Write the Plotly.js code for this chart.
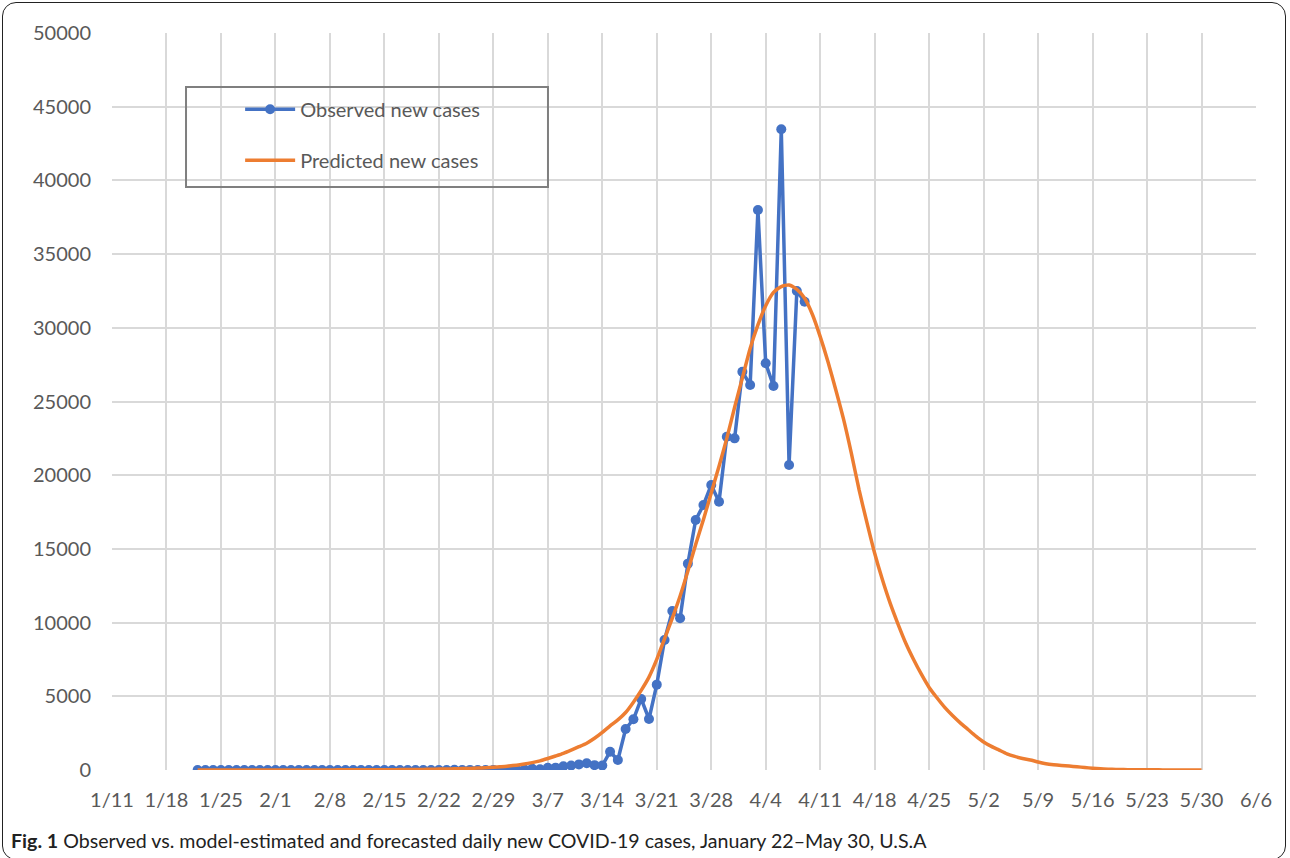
<!DOCTYPE html>
<html>
<head>
<meta charset="utf-8">
<script src="https://cdn.plot.ly/plotly-3.0.1.min.js"></script>
<style>
html,body{margin:0;padding:0;background:#fff;}
#wrap{position:relative;width:1290px;height:858px;overflow:hidden;}
#frame{position:absolute;left:2px;top:2px;width:1284px;height:858px;border:1.5px solid #222;border-radius:14px;box-sizing:border-box;pointer-events:none;}
</style>
</head>
<body>
<div id="wrap"><div id="chart"></div><div id="frame"></div></div>
<script>
// Observed daily new cases, 2020-01-22 .. 2020-04-09
const observedStart = '2020-01-22';
const observedCases = [
  1,0,1,0,3,0,0,0,0,2,
  1,0,3,0,0,0,0,0,0,0,
  1,0,1,0,0,0,0,0,0,0,
  2,0,0,15,0,6,1,2,8,
  7,23,19,33,77,53,150,160,250,300,380,460,330,300,
  1240,680,2780,3440,4820,3460,5790,8820,10790,10290,14000,16960,17980,19340,18200,22610,22500,27020,26120,37990,27590,26050,43470,20690,32500,31770
];
// Predicted daily new cases, 2020-01-22 .. 2020-05-30
const predictedStart = '2020-01-22';
const predictedCases = [
  0,0,0,1,1,1,1,2,2,2,
  3,3,4,4,5,6,7,8,9,10,
  12,14,16,18,20,
  23,27,31,36,42,50,60,
  70,82,95,110,128,150,180,
  220,270,330,400,500,620,780,
  950,1130,1350,1580,1820,2150,2550,
  3000,3400,3900,4600,5400,6300,7500,
  8900,10300,11800,13500,15300,17000,18800,
  20600,22500,24600,26600,28600,30200,31500,
  32400,32800,32900,32600,32000,30900,29400,
  27700,25800,23800,21500,19000,16800,14700,
  12900,11300,9900,8600,7500,6500,5600,
  4900,4250,3700,3200,2750,2300,1900,
  1600,1350,1100,920,780,680,540,
  430,360,310,270,220,170,120,
  80,55,38,28,20,15,12,
  10,8,6,5,4,3,2
];
const seriesNames = ['Observed new cases', 'Predicted new cases'];
const xRange = ['2020-01-11', '2020-06-06'];
const captionBold = 'Fig. 1';
const captionText = ' Observed vs. model-estimated and forecasted daily new COVID-19 cases, January 22–May 30, U.S.A';

function dates(start, n){
  const p = start.split('-').map(Number);
  const t0 = Date.UTC(p[0], p[1]-1, p[2]);
  const out = [];
  for (let i = 0; i < n; i++) out.push(new Date(t0 + i*86400000).toISOString().slice(0,10));
  return out;
}

const blue = '#4472C4', orange = '#ED7D31';
const tickFont = {family: 'Lato, "Open Sans", sans-serif', size: 20, color: '#595959'};

const traces = [
  {x: dates(observedStart, observedCases.length), y: observedCases, name: seriesNames[0],
   type: 'scatter', mode: 'lines+markers', legendgroup: 'a',
   line: {color: blue, width: 3.5}, marker: {color: blue, size: 10}},
  {x: dates(predictedStart, predictedCases.length), y: predictedCases, name: seriesNames[1],
   type: 'scatter', mode: 'lines', legendgroup: 'b', line: {color: orange, width: 3.5, shape: 'spline', smoothing: 0.6}}
];

const layout = {
  width: 1290, height: 858,
  margin: {l: 112, r: 34, t: 33, b: 88},
  paper_bgcolor: '#fff', plot_bgcolor: '#fff',
  showlegend: true,
  legend: {x: 0.112, y: 0.923, xanchor: 'left', yanchor: 'top', bgcolor: 'rgba(0,0,0,0)', borderwidth: 0,
           font: {family: 'Lato, "Open Sans", sans-serif', size: 20, color: '#595959'},
           traceorder: 'grouped', tracegroupgap: 22, itemwidth: 50},
  xaxis: {type: 'date', range: xRange, tick0: xRange[0], dtick: 7*86400000, tickformat: '%-m/%-d',
          showgrid: true, gridcolor: '#d9d9d9', gridwidth: 2, zeroline: false, showline: false,
          ticks: '', tickfont: tickFont, ticklabelstandoff: 16},
  yaxis: {range: [0, 50000], dtick: 5000, showgrid: true, gridcolor: '#d9d9d9', gridwidth: 2,
          zeroline: false, showline: false, ticks: '', tickfont: tickFont, ticklabelstandoff: 20,
          tickformat: 'd'},
  shapes: [{type: 'rect', xref: 'paper', yref: 'paper', x0: 0.0647, x1: 0.3811, y0: 0.7911, y1: 0.9267,
            line: {color: '#7f7f7f', width: 2}, fillcolor: 'rgba(255,255,255,0)', layer: 'above'}],
  annotations: [{xref: 'paper', yref: 'paper', x: -0.09, y: -0.095, xanchor: 'left', yanchor: 'middle',
                 showarrow: false, align: 'left',
                 text: '<b>' + captionBold + '</b>' + captionText,
                 font: {family: 'Lato, "Open Sans", sans-serif', size: 19.6, color: '#222'}}]
};

Plotly.newPlot('chart', traces, layout, {displayModeBar: false, staticPlot: true});
</script>
</body>
</html>
